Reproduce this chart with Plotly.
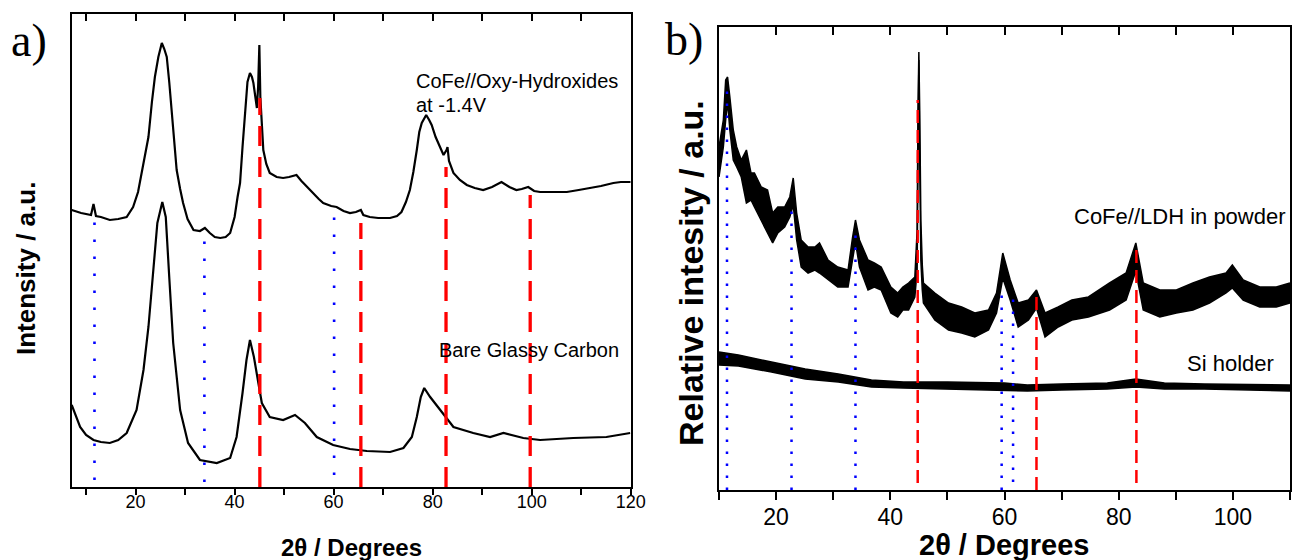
import plotly.graph_objects as go

W, H = 1293, 560

# ---------------- Panel a data (2theta in degrees, intensity in a.u.) ----------------
a_top_x = [7.1, 9.0, 11.0, 11.5, 12.0, 13.0, 14.8, 16.5, 18.2, 19.5, 20.5, 21.5, 22.6, 23.3, 23.9,
           24.6, 25.3, 25.8, 26.3, 26.8, 27.3, 27.8, 28.3, 29.0, 29.6, 30.5, 31.7, 33.0, 34.0, 35.0,
           36.0, 37.1, 38.2, 39.1, 40.0, 40.6, 41.1, 41.6, 42.1, 42.6, 43.1, 43.5, 43.8, 44.2, 44.5,
           44.75, 45.0, 45.2, 45.5, 45.8, 46.4, 47.1, 48.5, 49.8, 51.0, 52.5, 53.5, 55.2, 57.0, 57.9,
           59.5, 60.6, 62.0, 63.3, 64.5, 65.5, 66.0, 67.3, 69.0, 71.4, 72.8, 73.7, 74.6, 75.4, 76.1,
           76.8, 77.3, 77.8, 78.7, 79.3, 79.8, 80.6, 81.5, 82.2, 82.8, 83.0, 83.3, 84.2, 85.5, 86.9,
           88.5, 90.2, 92.0, 93.9, 95.5, 96.9, 98.0, 99.3, 100.5, 101.7, 104.0, 107.1, 109.5, 111.8,
           114.0, 116.5, 118.0, 120.0]
a_top_y = [277, 274, 272, 283, 271, 270, 267, 268, 270, 280, 295, 320, 350, 385, 410,
           430, 444, 438, 430, 405, 377, 345, 317, 298, 284, 268, 257, 256, 259, 254,
           250, 249, 250, 254, 270, 290, 304, 340, 377, 405, 414, 410, 404, 390, 379,
           400, 442, 390, 355, 337, 323, 314, 310, 309, 310, 312, 306, 297, 288, 284,
           281, 280, 276, 274, 275, 277, 272, 270, 269, 269, 271, 275, 285, 297, 315,
           337, 355, 364, 372, 367, 362, 350, 340, 332, 337, 340, 326, 314, 307, 302,
           299, 297, 300, 305, 300, 297, 298, 300, 296, 295, 295, 295, 297, 299,
           301, 304, 305, 305]

a_bot_x = [7.1, 8.8, 10.0, 11.5, 13.0, 14.8, 16.5, 18.2, 20.2, 21.6, 22.6, 23.6, 24.4, 25.4, 26.1,
           26.8, 27.6, 29.0, 30.6, 33.0, 36.4, 39.1, 40.4, 41.6, 42.4, 43.1, 43.9, 44.8, 45.5, 47.1,
           49.8, 52.2, 54.2, 56.6, 59.9, 63.3, 66.7, 71.4, 74.1, 75.8, 76.8, 77.6, 78.3, 79.5, 81.5,
           83.2, 84.2, 88.2, 91.6, 94.3, 98.3, 101.7, 108.4, 115.1, 119.9]
a_bot_y = [82, 60, 52, 47, 45, 44, 47, 54, 77, 117, 160, 217, 264, 285, 270,
           210, 144, 77, 44, 27, 24, 29, 50, 94, 127, 147, 130, 104, 84, 70,
           67, 72, 64, 50, 42, 38, 36, 35, 39, 50, 70, 90, 99, 90, 77,
           66, 60, 54, 50, 54, 49, 47, 49, 50, 54]

a_red_x = [45.1, 65.5, 82.7, 99.7]
a_red_top = [389, 264, 320, 292]
a_blue_x = [11.7, 33.9, 60.1]
a_blue_top = [269, 249, 275]
a_blue_bot = [7, 5, 12]

# ---------------- Panel b data (noisy traces given as lower / upper envelope) ----------------
b_ldh_x = [10.0, 10.4, 10.76, 11.17, 11.5, 11.9, 12.5, 13.1, 13.9, 14.8, 15.6, 16.2, 17.4, 18.5,
           19.4, 20.3, 21.5, 22.4, 23.0, 23.6, 24.4, 25.6, 26.8, 27.6, 29.1, 30.8, 32.6, 33.4,
           33.9, 34.6, 36.1, 37.2, 38.4, 40.1, 41.3, 42.2, 43.2, 44.3,
           44.7, 44.85, 45.0, 45.15, 45.35, 45.6, 45.8, 47.8, 50.2, 52.5, 54.8, 57.2, 58.6, 59.7,
           61.0, 62.4, 64.2, 65.6, 67.1, 69.4, 71.8, 74.7, 78.4, 81.3, 83.0, 84.3, 87.2, 90.1,
           93.0, 95.9, 98.8, 99.9, 101.8, 104.7, 107.6, 110.0]
b_ldh_lo = [313, 330, 343, 370, 388, 360, 330, 323, 313, 287, 290, 283, 270, 257,
            247, 257, 263, 273, 285, 250, 223, 217, 220, 217, 210, 203, 203, 230,
            248, 223, 200, 203, 200, 177, 173, 180, 180, 193,
            220, 330, 430, 330, 230, 200, 187, 170, 160, 157, 153, 160, 177, 212,
            190, 163, 170, 182, 153, 163, 170, 173, 180, 190, 219, 180, 173, 177,
            180, 187, 197, 202, 190, 183, 183, 187]
b_ldh_hi = [343, 360, 370, 410, 413, 393, 360, 343, 330, 340, 317, 317, 303, 300,
            277, 283, 283, 293, 312, 277, 250, 243, 243, 247, 230, 223, 220, 253,
            270, 250, 230, 227, 223, 203, 197, 203, 207, 213,
            260, 380, 438, 380, 270, 225, 207, 197, 187, 183, 177, 180, 197, 237,
            210, 187, 190, 200, 177, 183, 190, 193, 207, 217, 247, 207, 200, 200,
            207, 213, 217, 225, 210, 203, 203, 207]

b_si_x = [10.0, 13.4, 19.2, 25.1, 30.9, 36.7, 42.3, 50.0, 60.0, 64.0, 70.0, 78.0, 83.0, 88.0,
          95.0, 105.0, 110.0]
b_si_lo = [125, 124, 118, 111, 108, 103, 102, 101, 100, 99, 100, 101, 103, 101, 101, 100, 99]
b_si_hi = [138, 135, 128, 121, 116, 110, 108, 108, 107, 105, 106, 107, 111, 107, 106, 105, 105]

b_red_x = [44.8, 65.6, 83.1]
b_red_top = [390, 200, 243]
b_red_bot = [7, 0, 7]
b_blue_x = [11.4, 22.7, 33.9, 59.5, 61.5]
b_blue_top = [400, 280, 260, 203, 197]
b_blue_bot = [0, 0, 0, 0, 8]

ticks_a = [20, 40, 60, 80, 100, 120]
ticks_b = [20, 40, 60, 80, 100]

SANS = "Liberation Sans, Arial, sans-serif"
SERIF = "Liberation Serif, Times New Roman, serif"

fig = go.Figure()

# panel a curves
fig.add_trace(go.Scatter(x=a_top_x, y=a_top_y, mode="lines", line=dict(color="black", width=2.2),
                         xaxis="x", yaxis="y", showlegend=False, hoverinfo="skip"))
fig.add_trace(go.Scatter(x=a_bot_x, y=a_bot_y, mode="lines", line=dict(color="black", width=2.2),
                         xaxis="x", yaxis="y", showlegend=False, hoverinfo="skip"))
for xv, yt in zip(a_red_x, a_red_top):
    fig.add_trace(go.Scatter(x=[xv, xv], y=[0, yt], mode="lines",
                             line=dict(color="#ff0000", width=3.3, dash="20px,11px"),
                             xaxis="x", yaxis="y", showlegend=False, hoverinfo="skip"))
for xv, yt, yb in zip(a_blue_x, a_blue_top, a_blue_bot):
    fig.add_trace(go.Scatter(x=[xv, xv], y=[yb, yt], mode="lines",
                             line=dict(color="#0000ff", width=2.6, dash="2.6px,14.4px"),
                             xaxis="x", yaxis="y", showlegend=False, hoverinfo="skip"))

# panel b bands
fig.add_trace(go.Scatter(x=b_ldh_x, y=b_ldh_lo, mode="lines", line=dict(color="black", width=1.5),
                         xaxis="x2", yaxis="y2", showlegend=False, hoverinfo="skip"))
fig.add_trace(go.Scatter(x=b_ldh_x, y=b_ldh_hi, mode="lines", line=dict(color="black", width=1.5),
                         fill="tonexty", fillcolor="black",
                         xaxis="x2", yaxis="y2", showlegend=False, hoverinfo="skip"))
fig.add_trace(go.Scatter(x=b_si_x, y=b_si_lo, mode="lines", line=dict(color="black", width=1.5),
                         xaxis="x2", yaxis="y2", showlegend=False, hoverinfo="skip"))
fig.add_trace(go.Scatter(x=b_si_x, y=b_si_hi, mode="lines", line=dict(color="black", width=1.5),
                         fill="tonexty", fillcolor="black",
                         xaxis="x2", yaxis="y2", showlegend=False, hoverinfo="skip"))
for xv, yt, yb in zip(b_red_x, b_red_top, b_red_bot):
    fig.add_trace(go.Scatter(x=[xv, xv], y=[yb, yt], mode="lines",
                             line=dict(color="#ff0000", width=2.5, dash="13px,7px"),
                             xaxis="x2", yaxis="y2", showlegend=False, hoverinfo="skip"))
for xv, yt, yb in zip(b_blue_x, b_blue_top, b_blue_bot):
    fig.add_trace(go.Scatter(x=[xv, xv], y=[yb, yt], mode="lines",
                             line=dict(color="#0000ff", width=2.5, dash="2.5px,9.5px"),
                             xaxis="x2", yaxis="y2", showlegend=False, hoverinfo="skip"))

# invisible traces to hold top tick axes
fig.add_trace(go.Scatter(x=[50], y=[0], mode="markers", marker=dict(opacity=0), xaxis="x3", yaxis="y",
                         showlegend=False, hoverinfo="skip"))
fig.add_trace(go.Scatter(x=[50], y=[0], mode="markers", marker=dict(opacity=0), xaxis="x4", yaxis="y2",
                         showlegend=False, hoverinfo="skip"))

def px_x(p):
    return p / W

def px_y(p):
    return 1 - p / H

common_x = dict(showgrid=False, zeroline=False, showline=True, linecolor="black", linewidth=2,
                mirror=True, tickcolor="black", tickwidth=2, automargin=False)
common_y = dict(showgrid=False, zeroline=False, showline=True, linecolor="black", linewidth=2,
                mirror=True, ticks="", showticklabels=False, automargin=False)

fig.update_layout(
    width=W, height=H, autosize=False,
    margin=dict(l=0, r=0, t=0, b=0, pad=0),
    paper_bgcolor="white", plot_bgcolor="white",
    xaxis=dict(domain=[px_x(71.7), px_x(630.7)], range=[7.1, 120], anchor="y",
               tickmode="array", tickvals=ticks_a, ticks="outside", ticklen=6, ticklabelstandoff=-9,
               minor=dict(dtick=10, tick0=0, ticks="outside", ticklen=6, tickwidth=2, tickcolor="black"),
               tickfont=dict(family=SANS, size=18, color="black"), **common_x),
    yaxis=dict(domain=[px_y(487), px_y(14)], range=[0, 473], anchor="x", **common_y),
    xaxis3=dict(overlaying="x", anchor="y", side="top", range=[7.1, 120], showgrid=False,
                zeroline=False, showline=False, showticklabels=False, automargin=False,
                tickmode="array", tickvals=ticks_a, ticks="inside", ticklen=7, tickwidth=2,
                tickcolor="black",
                minor=dict(dtick=10, tick0=0, ticks="inside", ticklen=7, tickwidth=2, tickcolor="black")),
    xaxis2=dict(domain=[px_x(719), px_x(1290)], range=[10, 110], anchor="y2",
                tickmode="array", tickvals=ticks_b, ticks="outside", ticklen=8, ticklabelstandoff=-3,
                minor=dict(dtick=10, tick0=0, ticks="outside", ticklen=8, tickwidth=2, tickcolor="black"),
                tickfont=dict(family=SANS, size=23, color="black"), **common_x),
    yaxis2=dict(domain=[px_y(490), px_y(26.7)], range=[0, 463.3], anchor="x2", **common_y),
    xaxis4=dict(overlaying="x2", anchor="y2", side="top", range=[10, 110], showgrid=False,
                zeroline=False, showline=False, showticklabels=False, automargin=False,
                tickmode="array", tickvals=ticks_b, ticks="inside", ticklen=8, tickwidth=2,
                tickcolor="black",
                minor=dict(dtick=10, tick0=0, ticks="inside", ticklen=8, tickwidth=2, tickcolor="black")),
)

def ann(text, x, y, size, family=SANS, xanchor="center", yanchor="middle", angle=0):
    fig.add_annotation(text=text, x=px_x(x), y=px_y(y), xref="paper", yref="paper",
                       xanchor=xanchor, yanchor=yanchor, showarrow=False, textangle=angle,
                       font=dict(family=family, size=size, color="black"))

ann("a)", 9, 41, 46, SERIF, xanchor="left")
ann("b)", 663, 40, 46, SERIF, xanchor="left")
ann("<b>Intensity / a.u.</b>", 26, 269, 26, angle=-90)
ann("<b>Relative intesity / a.u.</b>", 691, 273, 34, angle=-90)
ann("<b>2\u03b8 / Degrees</b>", 351, 547, 24)
ann("<b>2\u03b8 / Degrees</b>", 1004, 545, 29)
ann("CoFe//Oxy-Hydroxides", 414, 81, 20, xanchor="left")
ann("at -1.4V", 414, 105, 20, xanchor="left")
ann("Bare Glassy Carbon", 437, 350, 20, xanchor="left")
ann("CoFe//LDH in powder", 1288, 217, 22, xanchor="right")
ann("Si holder", 1276, 363, 22, xanchor="right")

fig.write_html(
    "out.html",
    config={"displayModeBar": False, "responsive": False, "staticPlot": True},
    post_script="document.body.style.margin='0';document.body.style.overflow='hidden';",
)
